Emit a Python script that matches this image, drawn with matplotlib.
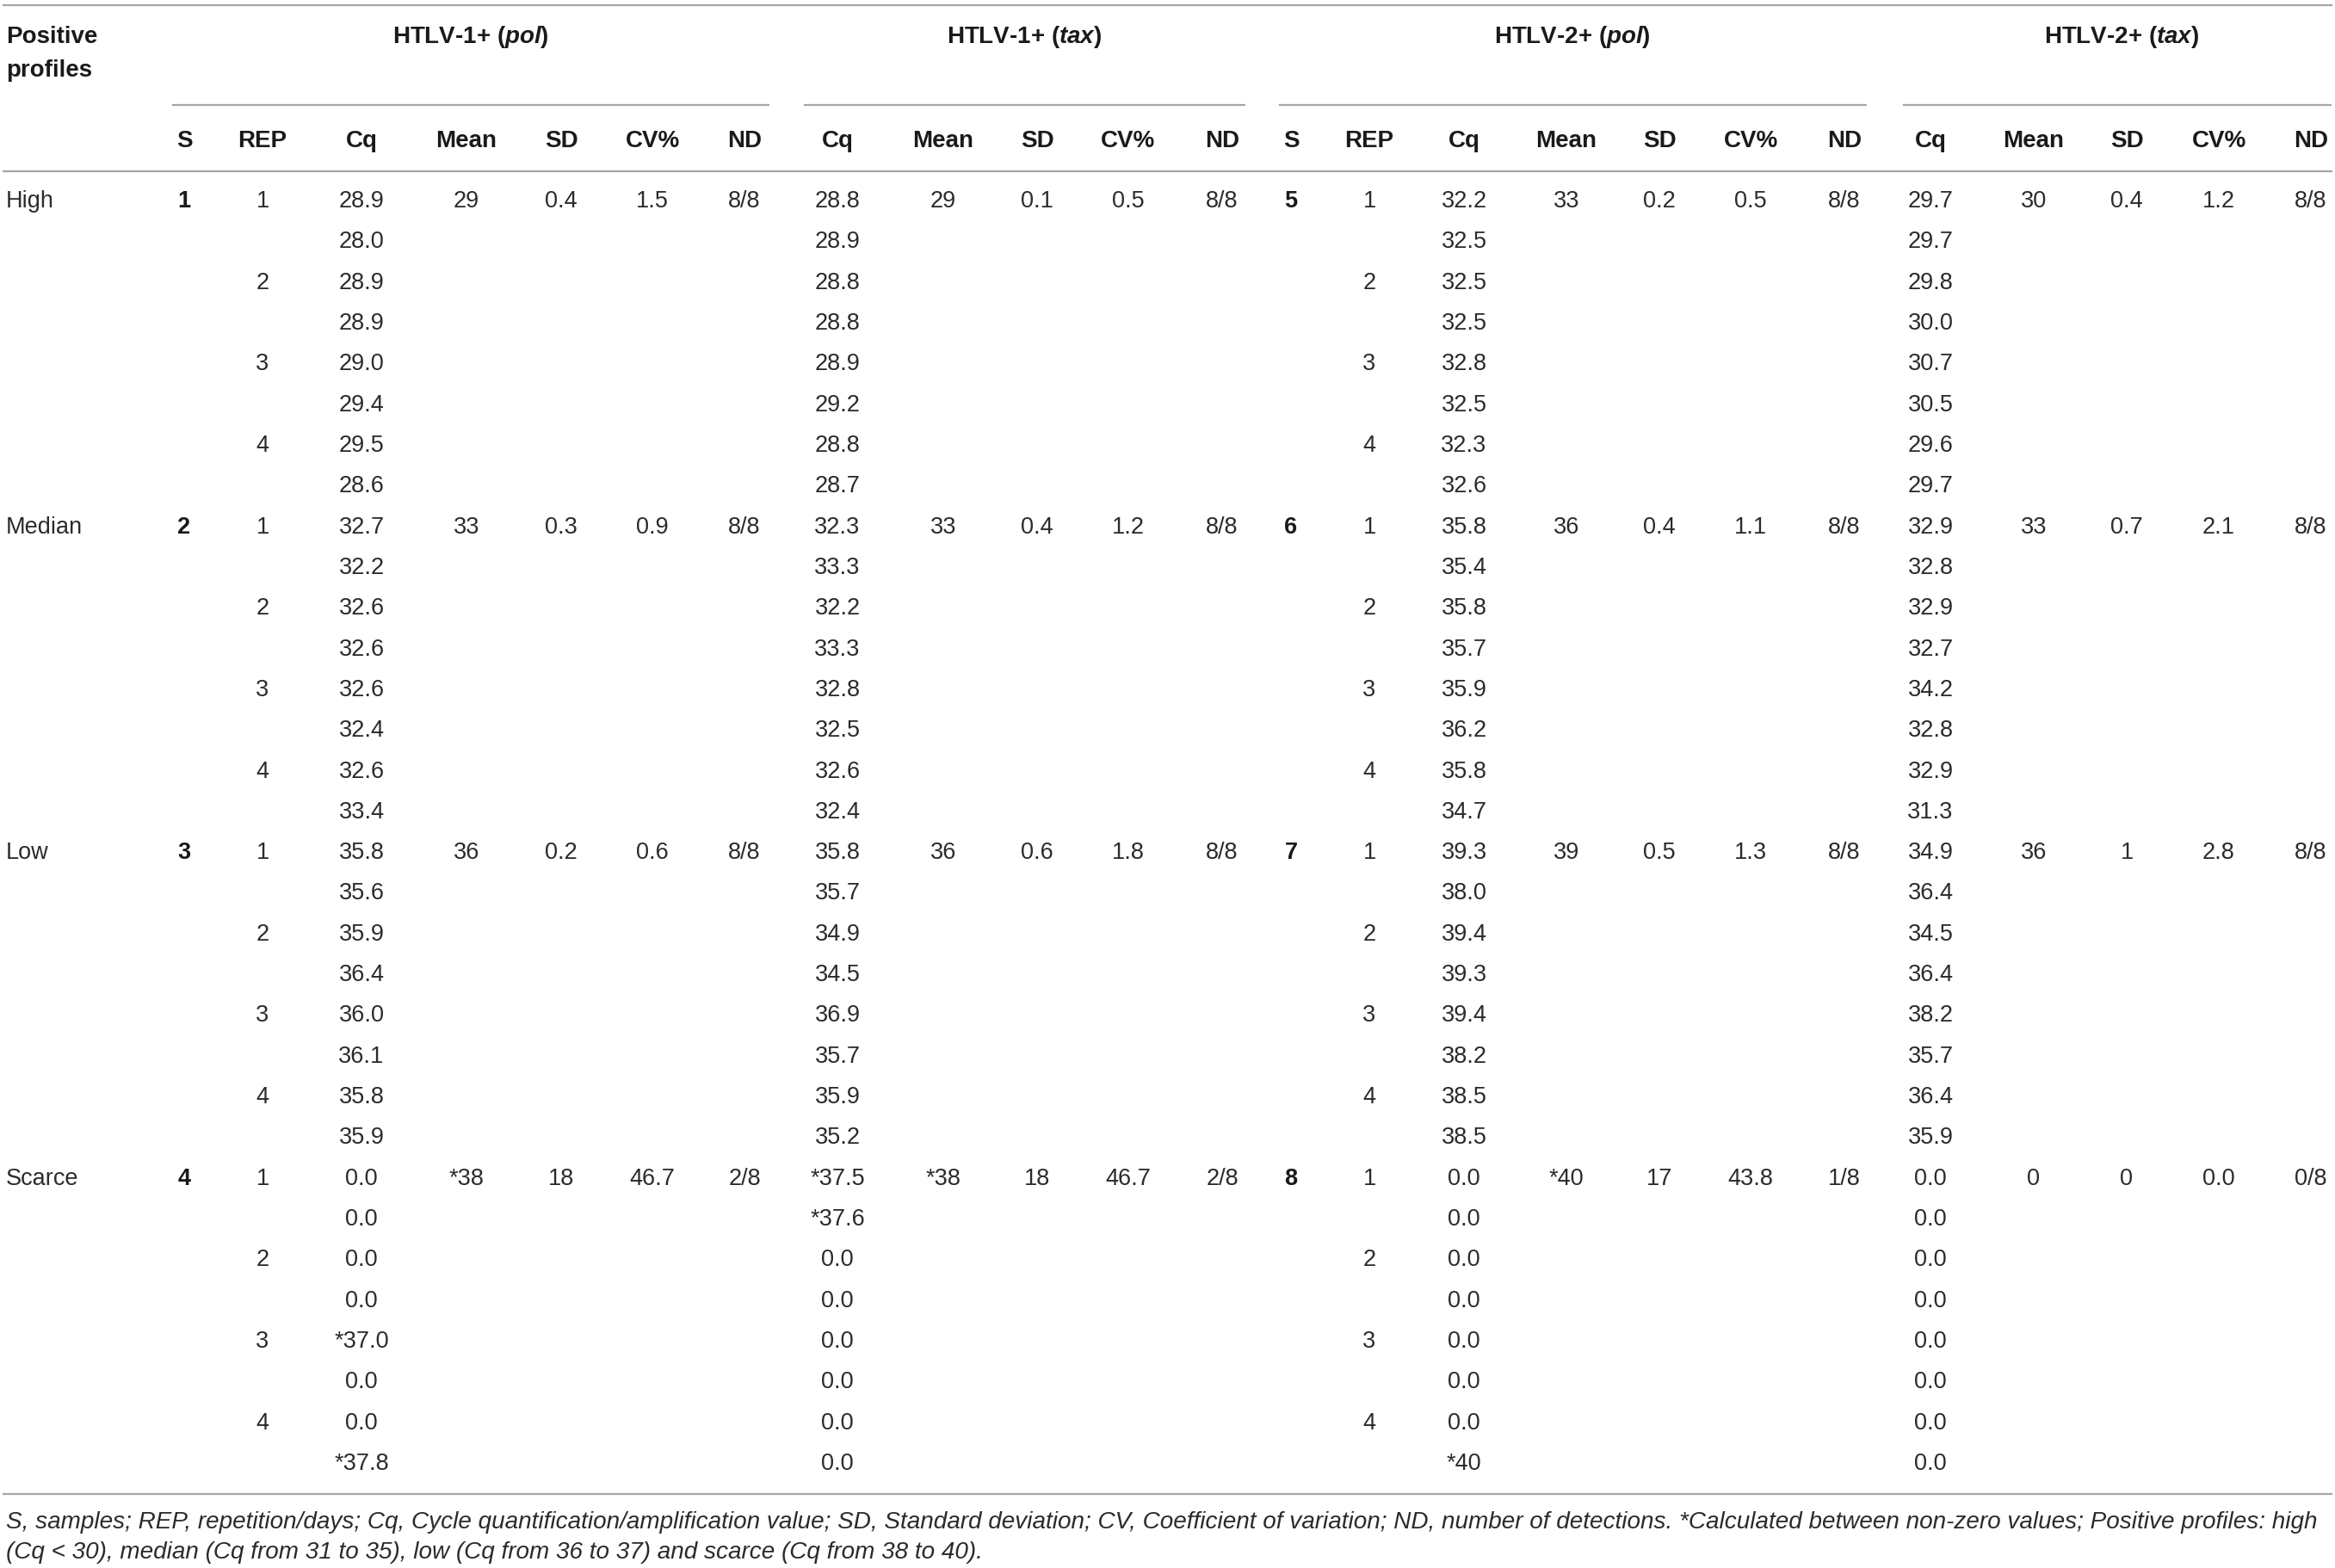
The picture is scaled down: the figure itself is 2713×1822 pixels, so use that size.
import matplotlib
matplotlib.use('Agg')
from matplotlib import pyplot as plt

plt.rcParams['font.family'] = ['Liberation Sans', 'DejaVu Sans']
plt.rcParams['mathtext.fontset'] = 'custom'
plt.rcParams['mathtext.it'] = 'Liberation Sans:italic:bold'
plt.rcParams['mathtext.rm'] = 'Liberation Sans:bold'

# profiles and sample numbers
profiles = ['High', 'Median', 'Low', 'Scarce']
samples_htlv1 = ['1', '2', '3', '4']
samples_htlv2 = ['5', '6', '7', '8']
reps = ['1', '2', '3', '4']

# Cq values, 8 per profile (2 per repetition)
cq_h1_pol = ['28.9', '28.0', '28.9', '28.9', '29.0', '29.4', '29.5', '28.6',
             '32.7', '32.2', '32.6', '32.6', '32.6', '32.4', '32.6', '33.4',
             '35.8', '35.6', '35.9', '36.4', '36.0', '36.1', '35.8', '35.9',
             '0.0', '0.0', '0.0', '0.0', '*37.0', '0.0', '0.0', '*37.8']
cq_h1_tax = ['28.8', '28.9', '28.8', '28.8', '28.9', '29.2', '28.8', '28.7',
             '32.3', '33.3', '32.2', '33.3', '32.8', '32.5', '32.6', '32.4',
             '35.8', '35.7', '34.9', '34.5', '36.9', '35.7', '35.9', '35.2',
             '*37.5', '*37.6', '0.0', '0.0', '0.0', '0.0', '0.0', '0.0']
cq_h2_pol = ['32.2', '32.5', '32.5', '32.5', '32.8', '32.5', '32.3', '32.6',
             '35.8', '35.4', '35.8', '35.7', '35.9', '36.2', '35.8', '34.7',
             '39.3', '38.0', '39.4', '39.3', '39.4', '38.2', '38.5', '38.5',
             '0.0', '0.0', '0.0', '0.0', '0.0', '0.0', '0.0', '*40']
cq_h2_tax = ['29.7', '29.7', '29.8', '30.0', '30.7', '30.5', '29.6', '29.7',
             '32.9', '32.8', '32.9', '32.7', '34.2', '32.8', '32.9', '31.3',
             '34.9', '36.4', '34.5', '36.4', '38.2', '35.7', '36.4', '35.9',
             '0.0', '0.0', '0.0', '0.0', '0.0', '0.0', '0.0', '0.0']

# summary per profile
mean_h1_pol = ['29', '33', '36', '*38']
sd_h1_pol = ['0.4', '0.3', '0.2', '18']
cv_h1_pol = ['1.5', '0.9', '0.6', '46.7']
nd_h1_pol = ['8/8', '8/8', '8/8', '2/8']

mean_h1_tax = ['29', '33', '36', '*38']
sd_h1_tax = ['0.1', '0.4', '0.6', '18']
cv_h1_tax = ['0.5', '1.2', '1.8', '46.7']
nd_h1_tax = ['8/8', '8/8', '8/8', '2/8']

mean_h2_pol = ['33', '36', '39', '*40']
sd_h2_pol = ['0.2', '0.4', '0.5', '17']
cv_h2_pol = ['0.5', '1.1', '1.3', '43.8']
nd_h2_pol = ['8/8', '8/8', '8/8', '1/8']

mean_h2_tax = ['30', '33', '36', '0']
sd_h2_tax = ['0.4', '0.7', '1', '0']
cv_h2_tax = ['1.2', '2.1', '2.8', '0.0']
nd_h2_tax = ['8/8', '8/8', '8/8', '0/8']

group_titles = ['HTLV-1+ ($\\mathit{pol}$)', 'HTLV-1+ ($\\mathit{tax}$)',
                'HTLV-2+ ($\\mathit{pol}$)', 'HTLV-2+ ($\\mathit{tax}$)']
footnote = ['S, samples; REP, repetition/days; Cq, Cycle quantification/amplification value; '
            'SD, Standard deviation; CV, Coefficient of variation; ND, number of detections. '
            '*Calculated between non-zero values; Positive profiles: high',
            '(Cq < 30), median (Cq from 31 to 35), low (Cq from 36 to 37) and scarce (Cq from 38 to 40).']

W, H = 2713, 1822
fig = plt.figure(figsize=(W / 100, H / 100), dpi=100)
ax = fig.add_axes([0, 0, 1, 1])
ax.set_xlim(0, W)
ax.set_ylim(H, 0)
ax.axis('off')

line_c = '#a6a6a6'
txt_c = '#2b2b2b'
fs = 19.5
hfs = 20

# column x centres
x_s1, x_rep1 = 214, 305
x_pol1 = [420, 542, 652, 758, 865]
x_tax1 = [973, 1096, 1205, 1311, 1420]
x_s2, x_rep2 = 1500, 1591
x_pol2 = [1701, 1820, 1928, 2034, 2143]
x_tax2 = [2243, 2363, 2471, 2578, 2685]

# rules
ax.plot([4, W - 4], [6, 6], color=line_c, lw=1.6)
ax.plot([4, W - 4], [199, 199], color=line_c, lw=1.6)
ax.plot([4, W - 4], [1736, 1736], color=line_c, lw=1.6)
for x0, x1 in [(201, 893), (935, 1446), (1487, 2168), (2212, 2708)]:
    ax.plot([x0, x1], [122, 122], color=line_c, lw=1.6)

# header
hk = dict(fontsize=hfs, fontweight='bold', color='#1a1a1a', va='center')
ax.text(7, 43, 'Positive', ha='left', **hk)
ax.text(7, 82, 'profiles', ha='left', **hk)
for xc, t in zip([547, 1190, 1827, 2465], group_titles):
    ax.text(xc, 43, t, ha='center', **hk)
sub = ['Cq', 'Mean', 'SD', 'CV%', 'ND']
ax.text(x_s1, 164, 'S', ha='center', **hk)
ax.text(x_rep1, 164, 'REP', ha='center', **hk)
ax.text(x_s2, 164, 'S', ha='center', **hk)
ax.text(x_rep2, 164, 'REP', ha='center', **hk)
for cols in [x_pol1, x_tax1, x_pol2, x_tax2]:
    for xc, t in zip(cols, sub):
        ax.text(xc, 164, t, ha='center', **hk)

# body
y0, dy = 234, (1701 - 234) / 31
dk = dict(fontsize=fs, color=txt_c, va='center', ha='center')
blocks = [(x_pol1, cq_h1_pol, mean_h1_pol, sd_h1_pol, cv_h1_pol, nd_h1_pol),
          (x_tax1, cq_h1_tax, mean_h1_tax, sd_h1_tax, cv_h1_tax, nd_h1_tax),
          (x_pol2, cq_h2_pol, mean_h2_pol, sd_h2_pol, cv_h2_pol, nd_h2_pol),
          (x_tax2, cq_h2_tax, mean_h2_tax, sd_h2_tax, cv_h2_tax, nd_h2_tax)]
for p, prof in enumerate(profiles):
    yp = y0 + p * 8 * dy
    ax.text(7, yp, prof, fontsize=fs, color=txt_c, va='center', ha='left')
    ax.text(x_s1, yp, samples_htlv1[p], fontsize=fs, fontweight='bold', color='#1a1a1a',
            va='center', ha='center')
    ax.text(x_s2, yp, samples_htlv2[p], fontsize=fs, fontweight='bold', color='#1a1a1a',
            va='center', ha='center')
    for r, rep in enumerate(reps):
        yr = yp + 2 * r * dy
        ax.text(x_rep1, yr, rep, **dk)
        ax.text(x_rep2, yr, rep, **dk)
    for cols, cq, mean, sd, cv, nd in blocks:
        for k in range(8):
            ax.text(cols[0], yp + k * dy, cq[p * 8 + k], **dk)
        for xc, v in zip(cols[1:], [mean[p], sd[p], cv[p], nd[p]]):
            ax.text(xc, yp, v, **dk)

# footnote
ax.text(7, 1769, footnote[0], fontsize=20.1, style='italic', color=txt_c, va='center', ha='left')
ax.text(7, 1804, footnote[1], fontsize=20.1, style='italic', color=txt_c, va='center', ha='left')

fig.savefig('out.png', dpi=100)
